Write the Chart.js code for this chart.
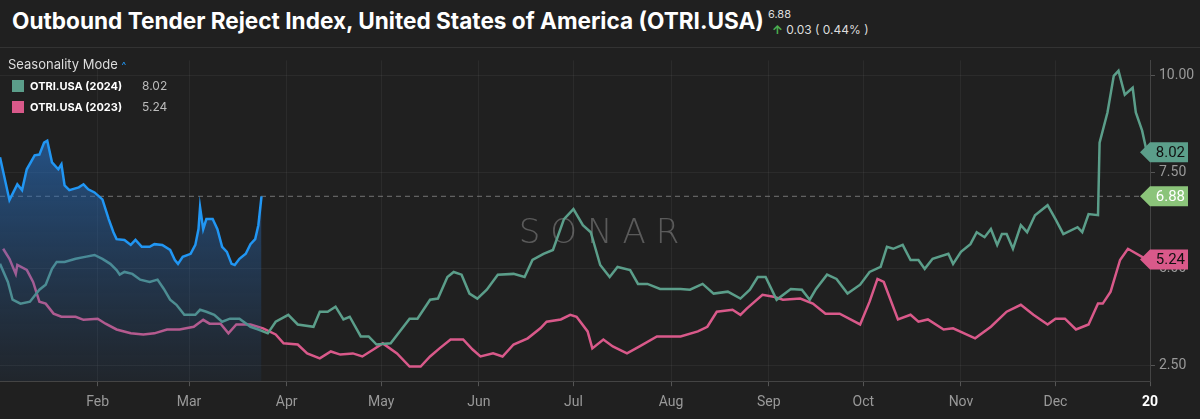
<!DOCTYPE html>
<html>
<head>
<meta charset="utf-8">
<script src="https://cdn.jsdelivr.net/npm/chart.js@4"></script>
<style>
  html, body { margin: 0; padding: 0; background: #202020; }
  body { width: 1200px; height: 419px; position: relative; overflow: hidden; font-family: Inter, "Noto Sans", sans-serif; }
  #title { position: absolute; left: 12px; top: 7px; font-size: 22.6px; font-weight: 700; color: #fff; }
  #last { position: absolute; left: 768px; top: 7px; font-size: 11px; color: #ddd; }
  #chg { position: absolute; left: 772px; top: 22px; font-size: 12px; color: #ddd; }
  #chg b { color: #4caf50; font-weight: 700; }
  #sep { position: absolute; left: 0; right: 0; top: 47px; height: 1px; background: #333; }
  #legend { position: absolute; left: 8px; top: 56px; color: #ddd; font-size: 13px; z-index: 2; }
  #legend .row { display: flex; align-items: center; margin-top: 6px; font-size: 11px; }
  #legend .sw { width: 12px; height: 12px; margin: 0 6px 0 4px; }
  #legend .nm { font-weight: 700; color: #fff; width: 112px; }
  #legend .val { color: #bbb; font-size: 12px; }
  #legend .caret { color: #2196f3; font-size: 10px; }
  #wrap { position: absolute; left: 0; top: 48px; width: 1200px; height: 371px; }
</style>
</head>
<body>
<div id="title">Outbound Tender Reject Index, United States of America (OTRI.USA)</div>
<div id="last">6.88</div>
<div id="chg"><b>↑</b> 0.03 ( 0.44% )</div>
<div id="sep"></div>
<div id="legend">
  <div>Seasonality Mode <span class="caret">^</span></div>
  <div class="row"><div class="sw" style="background:#5b9e8a"></div><div class="nm">OTRI.USA (2024)</div><div class="val">8.02</div></div>
  <div class="row"><div class="sw" style="background:#d9598a"></div><div class="nm">OTRI.USA (2023)</div><div class="val">5.24</div></div>
</div>
<div id="wrap"><canvas id="c"></canvas></div>
<script>
// x = day of year
const monthDays = [31, 60, 91, 121, 152, 182, 213, 244, 274, 305, 335, 365];
const monthLabels = ['Feb', 'Mar', 'Apr', 'May', 'Jun', 'Jul', 'Aug', 'Sep', 'Oct', 'Nov', 'Dec', '20'];
const yTicks = [2.5, 5, 7.5, 10];

const days2025 = [0,3,5.5,7,8.5,11,12.5,14,15,16.5,18.5,19.5,20.5,22,25,26.5,28,30,32.5,34.5,36,37,39.5,41.5,43,45,47.5,49,51.5,54,55.5,56.5,58,60.5,62,63,63.5,64.5,65.5,67.5,69,70.5,72,73.5,74.5,76,78,79.5,81,82,83];
const vals2025 = [7.89,6.78,7.19,7.04,7.58,7.94,7.96,8.27,8.32,7.76,7.58,7.71,7.16,7.04,7.11,7.19,7.06,6.98,6.80,6.29,5.95,5.77,5.75,5.62,5.75,5.57,5.57,5.64,5.62,5.49,5.23,5.13,5.31,5.39,5.62,6.03,6.6,6.03,6.29,6.29,6.03,5.57,5.44,5.13,5.10,5.26,5.39,5.64,5.77,6.13,6.88];

const days2024 = [0,2.5,4,6.5,9.5,12.5,14.5,16.5,18,20.5,24,27,30,32.5,35,37,38,39.5,42,44.5,47.5,50,52,54,56,58.5,62,63.5,65.5,68,70.5,73,76,79.5,82,85,87.5,91.5,94.5,99.5,101.5,104,106.5,109,111,114.5,117,119.5,124,130,132.5,136.5,139,142,144,146.5,149,151.5,154.5,158,163,166.5,169,172.5,175.5,179,182,185,187.5,190.5,193.5,196,200,202.5,205.5,209.5,216,219,223,226.5,231,235,238,240.5,243,246.5,251,254.5,257,259,262.5,265.5,269,273,276,279.5,281.5,283.5,286.5,289,291.5,293.5,296,301,302.5,305,308,310,312.5,314.5,316.5,318,319.5,321.5,324,326,328.5,332.5,335,337.5,342,343.5,345.5,348.5,349,351.5,353.5,355,357,359.5,360.5,362.5,364];
const vals2024 = [5.13,4.66,4.2,4.10,4.15,4.46,4.59,5.0,5.18,5.18,5.26,5.31,5.36,5.26,5.13,4.97,4.85,4.92,4.87,4.72,4.66,4.72,4.48,4.2,4.07,3.81,3.81,3.94,3.89,3.81,3.63,3.71,3.71,3.5,3.43,3.33,3.63,3.81,3.56,3.5,3.89,3.89,4.02,3.69,3.76,3.25,3.25,3.04,3.07,3.71,3.71,4.2,4.23,4.79,4.92,4.85,4.36,4.23,4.46,4.85,4.87,4.79,5.23,5.39,5.49,6.29,6.55,6.13,5.95,5.10,4.79,5.05,4.97,4.61,4.61,4.48,4.48,4.46,4.61,4.36,4.41,4.23,4.46,4.79,4.79,4.20,4.48,4.46,4.20,4.48,4.85,4.74,4.36,4.59,4.92,5.05,5.57,5.52,5.62,5.23,5.23,5.0,5.26,5.39,5.13,5.44,5.64,5.95,5.82,6.03,5.62,5.90,5.90,5.52,6.13,5.95,6.39,6.65,6.29,5.90,6.08,5.95,6.42,6.39,8.27,9.05,10.0,10.13,9.51,9.69,9.05,8.58,8.02];

const days2023 = [1,3,5,5.5,8.5,10.5,12.5,14.5,17,19.5,24,26.5,31,33.5,37,41.5,45.5,49,53,57,61.5,64.5,66.5,70,72.5,75,79.5,83.5,87.5,90,94.5,97.5,101.5,105,108,112,115,118.5,121.5,126,130,133.5,136.5,139.5,143,147,150,152.5,156.5,159.5,163,167.5,171.5,173.5,178,181,183,186.5,188,191.5,194.5,199,203,208.5,216,221.5,224.5,227.5,232.5,235,237,242,245.5,248.5,254,258,262,266.5,273,276,278.5,280.5,285,289,291.5,294.5,299.5,302.5,309.5,314.5,319.5,324,328,332.5,335,338,341.5,345.5,348.5,350,352.5,355.5,358,364];
const vals2023 = [5.52,5.26,4.87,5.10,4.97,4.66,4.15,4.10,3.84,3.76,3.76,3.68,3.71,3.58,3.43,3.33,3.30,3.33,3.43,3.43,3.5,3.68,3.58,3.58,3.33,3.56,3.56,3.46,3.30,3.07,3.04,2.81,2.68,2.86,2.78,2.81,2.73,2.91,3.07,2.81,2.47,2.47,2.73,2.94,3.17,3.17,2.91,2.73,2.81,2.73,3.04,3.20,3.46,3.63,3.69,3.81,3.76,3.38,2.94,3.17,2.99,2.81,2.99,3.25,3.25,3.38,3.5,3.89,3.94,3.81,3.97,4.33,4.28,4.20,4.23,4.10,3.84,3.84,3.56,4.15,4.74,4.66,3.69,3.81,3.63,3.69,3.43,3.46,3.20,3.5,3.89,4.07,3.81,3.56,3.71,3.71,3.43,3.56,4.10,4.10,4.41,5.23,5.52,5.24];

const pts = (xs, ys) => xs.map((x, i) => ({ x, y: ys[i] })).filter(p => p.y !== undefined);

const tags = [
  { value: 8.02, bg: '#5b9e8a', fg: '#111' },
  { value: 6.88, bg: '#8bc47a', fg: '#fff' },
  { value: 5.24, bg: '#d9598a', fg: '#111' }
];

const overlay = {
  id: 'overlay',
  beforeDatasetsDraw(chart) {
    const { ctx, chartArea: a, scales: { y } } = chart;
    ctx.save();
    ctx.font = '200 34px "DejaVu Sans", sans-serif';
    ctx.fillStyle = 'rgba(200,200,200,0.35)';
    ctx.textAlign = 'center';
    ctx.textBaseline = 'middle';
    if ('letterSpacing' in ctx) ctx.letterSpacing = '10px';
    ctx.fillText('SONAR', 604, y.getPixelForValue(5.9));
    ctx.restore();
    // dashed last-value line
    const yy = y.getPixelForValue(6.88);
    ctx.save();
    ctx.strokeStyle = 'rgba(170,170,170,0.6)';
    ctx.setLineDash([5, 4]);
    ctx.lineWidth = 1;
    ctx.beginPath();
    ctx.moveTo(a.left, yy);
    ctx.lineTo(a.right, yy);
    ctx.stroke();
    ctx.restore();
  },
  afterDraw(chart) {
    const { ctx, chartArea: a, scales: { y } } = chart;
    ctx.save();
    ctx.font = '15px Roboto, sans-serif';
    ctx.textBaseline = 'middle';
    tags.forEach(t => {
      const yy = y.getPixelForValue(t.value);
      const x0 = a.right - 10, w = 48, h = 20;
      ctx.fillStyle = t.bg;
      ctx.beginPath();
      ctx.moveTo(x0, yy);
      ctx.lineTo(x0 + 10, yy - h / 2);
      ctx.lineTo(x0 + w, yy - h / 2);
      ctx.lineTo(x0 + w, yy + h / 2);
      ctx.lineTo(x0 + 10, yy + h / 2);
      ctx.closePath();
      ctx.fill();
      ctx.fillStyle = t.fg;
      ctx.textAlign = 'right';
      ctx.fillText(t.value.toFixed(2), x0 + w - 3, yy + 1);
    });
    ctx.restore();
  }
};

const ctx = document.getElementById('c').getContext('2d');
const grad = ctx.createLinearGradient(0, 90, 0, 335);
grad.addColorStop(0, 'rgba(40,115,200,0.6)');
grad.addColorStop(1, 'rgba(40,90,150,0.1)');

new Chart(ctx, {
  type: 'line',
  data: {
    datasets: [
      { label: '2025', data: pts(days2025, vals2025), borderColor: '#2196f3', backgroundColor: grad, fill: 'start', borderWidth: 2.5, pointRadius: 0, tension: 0 },
      { label: 'OTRI.USA (2024)', data: pts(days2024, vals2024), borderColor: '#5b9e8a', fill: false, borderWidth: 2.5, pointRadius: 0, tension: 0 },
      { label: 'OTRI.USA (2023)', data: pts(days2023, vals2023), borderColor: '#d9598a', fill: false, borderWidth: 2.5, pointRadius: 0, tension: 0 }
    ]
  },
  options: {
    responsive: true,
    maintainAspectRatio: false,
    animation: false,
    layout: { padding: { left: 0, right: 0, top: 2, bottom: 0 } },
    plugins: { legend: { display: false }, tooltip: { enabled: false } },
    scales: {
      x: {
        type: 'linear', min: 0, max: 365,
        afterBuildTicks: s => { s.ticks = monthDays.map(v => ({ value: v })); },
        ticks: {
          autoSkip: false, maxRotation: 0, padding: 8,
          color: c => c.index === monthLabels.length - 1 ? '#fff' : '#999',
          font: c => ({ family: 'Roboto', size: 14, weight: c.index === monthLabels.length - 1 ? 'bold' : 'normal' }),
          callback: (v, i) => monthLabels[i]
        },
        grid: { color: 'rgba(255,255,255,0.05)', tickLength: 5, tickColor: '#555' },
        border: { color: '#444' }
      },
      y: {
        position: 'right', min: 2.09, max: 10.40,
        afterBuildTicks: s => { s.ticks = yTicks.map(v => ({ value: v })); },
        afterFit: s => { s.width = 50; },
        ticks: { color: '#999', padding: 4, font: { family: 'Roboto', size: 14 }, callback: v => v.toFixed(2) },
        grid: { color: 'rgba(255,255,255,0.05)', tickLength: 5, tickColor: '#555' },
        border: { color: '#444' }
      }
    }
  },
  plugins: [overlay]
});
</script>
</body>
</html>
